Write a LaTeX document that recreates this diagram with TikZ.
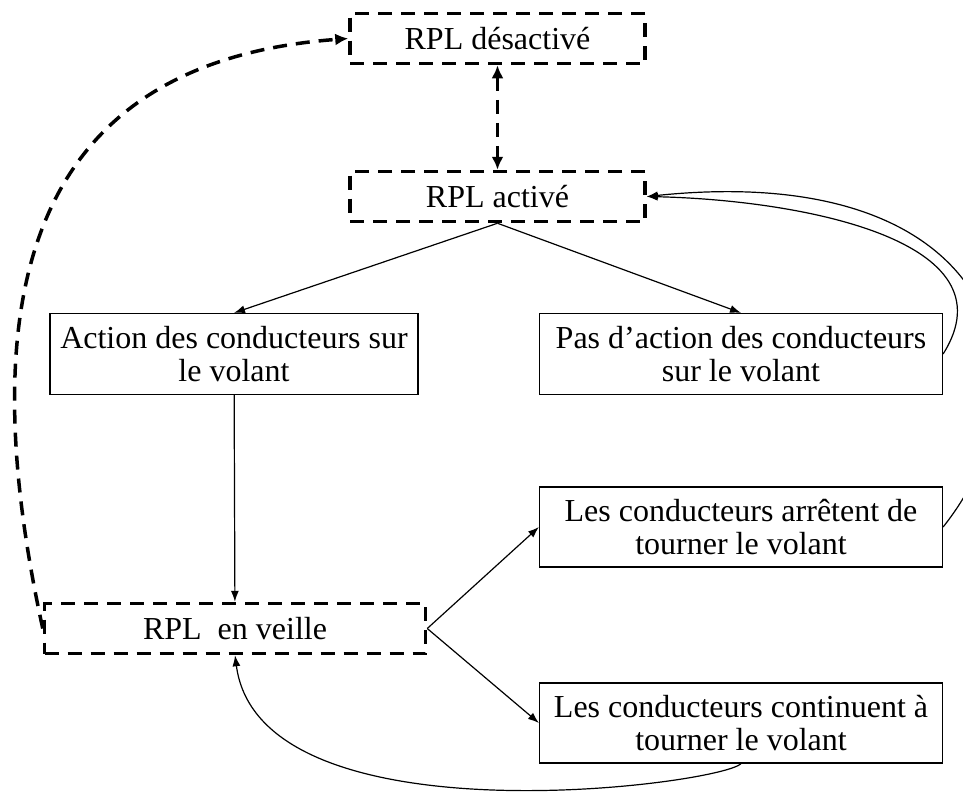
\documentclass[tikz,border=0pt]{standalone}
\usepackage{fontspec}
\setmainfont{Liberation Serif}
\usetikzlibrary{arrows.meta}
\tikzset{
	dbox/.style={
		draw,line width=3.5pt,dash pattern=on 14pt off 9pt, %thick dashed states
		minimum width=295pt,minimum height=50pt,inner sep=0pt},
	sbox/.style={draw,line width=1.2pt,align=center,minimum height=81pt,inner sep=0pt},
	dline/.style={line width=3.5pt,dash pattern=on 14pt off 9pt,-{Latex[length=13pt,width=12pt]}},
	sline/.style={line width=1.2pt,-{Latex[length=11pt,width=8pt]}}
}
\def\bigf{\fontsize{32}{33}\selectfont}

\begin{document}
\begin{tikzpicture}[x=1pt,y=-1pt,every node/.style={font=\bigf}]
			\useasboundingbox (0,0) rectangle (963,796);
			\node[dbox] (dis) at (497.5,38.5) {RPL désactivé};
			\node[dbox] (act) at (497.5,196.5) {RPL activé};
			\node[sbox,minimum width=368pt] (act1) at (234,354) {Action des conducteurs sur\\le volant};
			\node[sbox,minimum width=403pt] (noact) at (741,354) {Pas d’action des conducteurs\\sur le volant};
			\node[dbox,minimum width=381pt] (veille) at (235,628.5) {RPL~ en veille};
			\node[sbox,minimum width=403pt,minimum height=80pt] (stop) at (741,527) {Les conducteurs arrêtent de\\tourner le volant};
			\node[sbox,minimum width=403pt,minimum height=80pt] (cont) at (741,723) {Les conducteurs continuent à\\tourner le volant};
			\draw[dline,{Latex[length=13pt,width=12pt]}-{Latex[length=13pt,width=12pt]}] (dis) -- (act);
			\draw[sline] (act.south) -- (act1.north);
			\draw[sline] (act.south) -- (noact.north);
			\draw[sline] (act1) -- (veille);
			\draw[sline] (veille.east) -- (stop.west);
			\draw[sline] (veille.east) -- (cont.west);
			\draw[sline] (cont.south) .. controls (720,785) and (260,845) .. (veille.south);
			\draw[sline] (noact.east) .. controls (1015,240) and (800,200) .. (act.east);
			\draw[sline] (stop.east) .. controls (1060,380) and (1000,160) .. (act.east);
			\draw[dline] (veille.west) .. controls (-40,250) and (60,60) .. (dis.west);
			\end{tikzpicture}
\end{document}
